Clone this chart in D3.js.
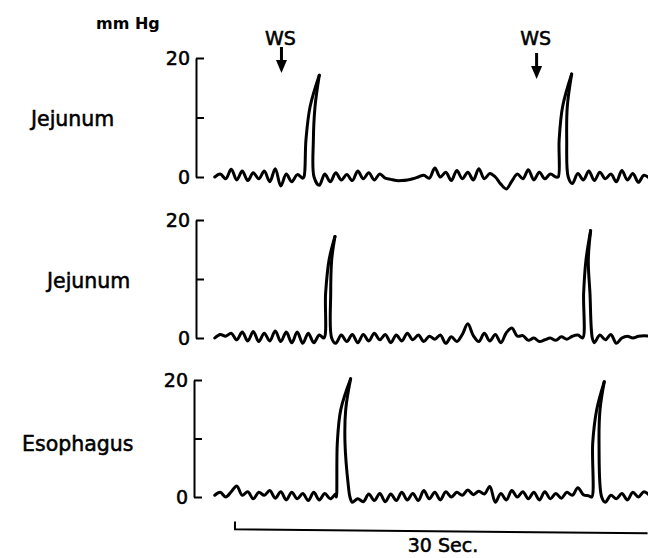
<!DOCTYPE html>
<html>
<head>
<meta charset="utf-8">
<script src="https://cdn.jsdelivr.net/npm/d3@7"></script>
<style>
  html, body { margin: 0; padding: 0; background: #fff; }
  svg { display: block; font-family: "DejaVu Sans", sans-serif; }
  .lbl { fill: #000; stroke: #000; stroke-width: 0.55px; }
</style>
</head>
<body>
<svg id="chart" width="648" height="558"></svg>
<script>
// ---------------- DATA ----------------
// time in seconds from the start of the traces; pressure in mm Hg
const panelNames = ["Jejunum", "Jejunum", "Esophagus"];
const tickValues = [0, 10, 20];
const tickLabels = ["0", "", "20"];
const yUnit = "mm Hg";
const markerLabel = "WS";
const markerTimes = [5.05, 23.6];          // WS arrows (s)
const scaleBarStart = 1.67;                // s
const scaleBarSeconds = 30;
const scaleBarLabel = "30 Sec.";

const baseStart = 0.2, baseStep = 0.4;     // baseline sampling
// baseline samples (null = during a contraction)
const jejunumA = [
  0.0, 0.5, -0.3, 1.3, -0.5, 1.0, -0.6, 0.7, -0.3, 1.0,
  -0.8, 1.4, -1.5, 0.5, -0.8, 0.4, -0.2, null, null, -1.4,
  0.5, -0.8, 0.7, -0.5, 0.4, -0.6, 1.0, -0.3, 0.7, -0.5,
  0.5, -0.2, -0.4, -0.6, -0.6, -0.5, -0.3, 0.0, 0.3, -0.2,
  1.5, 0.0, 0.8, -0.6, 1.1, -0.3, 0.8, -0.5, 1.4, -0.3,
  0.6, 0.0, -1.2, -2.0, -0.7, 0.5, -0.3, 1.2, -0.5, 0.8,
  -0.3, 0.5, 0.0, null, null, -1.1, 0.6, -0.5, 1.0, -0.6,
  0.8, -0.3, 0.5, -0.8, 1.1, -0.5, 0.6, -0.9, 0.3, -0.2
];
const jejunumB = [
  0.0, 0.6, 0.3, 0.8, -0.3, 1.0, -0.5, 1.1, -0.6, 0.8,
  -0.5, 1.2, -0.6, 1.0, -0.8, 1.0, -0.9, 0.8, -0.8, 0.5,
  null, null, -0.9, 0.5, -0.6, 0.6, -0.8, 0.6, -0.5, 0.8,
  -0.3, 0.6, -0.8, 0.5, -0.5, 0.8, -0.3, 0.5, -0.6, 0.3,
  -0.2, 0.5, -0.9, 0.2, -0.6, 0.6, 2.4, 0.4, -0.6, 0.8,
  -0.5, 0.6, -0.8, 0.9, 1.7, 0.3, 0.4, -0.4, 0.0, -0.6,
  -0.3, 0.0, -0.4, 0.2, -0.2, 0.3, 0.5, null, null, -0.8,
  0.5, -0.3, 0.6, -0.9, 0.0, 0.3, 0.0, 0.3, 0.4, 0.3
];
const esophagus = [
  0.3, 0.8, 0.0, 0.9, 1.9, 0.3, 0.9, -0.3, 0.8, 0.3,
  1.1, -0.2, 0.9, -0.5, 0.8, -0.3, 0.6, -0.6, 0.8, -0.5,
  0.6, -0.3, 0.5, null, null, -0.9, -0.3, -0.8, 0.5, -0.6,
  0.6, -0.8, 0.5, -0.6, 0.8, -0.5, 0.6, -0.6, 1.1, -0.3,
  0.8, -0.5, 0.9, 0.0, 0.8, 0.3, 1.2, 0.4, 1.0, 0.5,
  1.8, -0.9, 0.6, -0.5, 1.1, 0.0, 0.9, -0.3, 0.8, -0.5,
  0.9, -0.3, 0.6, -0.2, 0.8, 0.3, 1.6, 0.4, 0.2, null,
  null, -0.9, 0.3, -0.3, 0.6, -0.5, 0.8, 0.0, 0.9, 0.3
];
// contractions: rising limb and falling limb [t, mmHg]
const jejunumASpikes = [
  { rise: [[6.69, 0], [6.83, 6.2], [7.13, 11.8], [7.80, 17.1]],
    fall: [[7.80, 17.1], [7.49, 11.8], [7.37, 6.2], [7.42, 0]] },
  { rise: [[25.17, 0], [25.24, 6.2], [25.49, 11.8], [26.15, 17.3]],
    fall: [[26.15, 17.3], [25.83, 11.8], [25.79, 6.2], [25.90, 0]] }
];
const jejunumBSpikes = [
  { rise: [[8.14, 0], [8.26, 7.6], [8.51, 13.2], [8.94, 17.2]],
    fall: [[8.94, 17.2], [8.70, 13.2], [8.63, 7.6], [8.70, 0]] },
  { rise: [[26.95, 0], [27.02, 7.6], [27.19, 13.2], [27.53, 18.2]],
    fall: [[27.53, 18.2], [27.36, 13.2], [27.48, 7.6], [27.65, 0]] }
];
const esophagusSpikes = [
  { rise: [[9.05, 0], [9.11, 9.2], [9.36, 14.9], [10.08, 20.2]],
    fall: [[10.08, 20.2], [9.72, 14.9], [9.67, 9.2], [9.91, 2.0], [10.03, 0]] },
  { rise: [[27.61, 0], [27.68, 9.2], [27.97, 14.9], [28.52, 19.7]],
    fall: [[28.52, 19.7], [28.21, 14.9], [28.14, 9.2], [28.33, 0]] }
];
const baselines = [jejunumA, jejunumB, esophagus];
const spikes = [jejunumASpikes, jejunumBSpikes, esophagusSpikes];

// ---------------- LAYOUT ----------------
const svg = d3.select("#chart");
const x = d3.scaleLinear().domain([0, 31.7]).range([212, 648]);
const panels = [
  { y0: 177, y20: 58, axisX: 196, labelX: 31, labelY: 126 },
  { y0: 338, y20: 220, axisX: 196, labelX: 47, labelY: 288 },
  { y0: 497, y20: 380, axisX: 194, labelX: 22, labelY: 451 }
];

svg.append("defs").append("clipPath").attr("id", "clip")
  .append("rect").attr("x", 0).attr("y", 0).attr("width", 648).attr("height", 558);

panels.forEach((p, k) => {
  const y = d3.scaleLinear().domain([0, 20]).range([p.y0, p.y20]);

  const axis = d3.axisLeft(y)
    .tickValues(tickValues)
    .tickFormat((d, i) => tickLabels[i])
    .tickSizeInner(-8).tickSizeOuter(0).tickPadding(6);
  const g = svg.append("g").attr("transform", `translate(${p.axisX},0)`).call(axis);
  g.select(".domain").attr("stroke", "#000").attr("stroke-width", 2);
  g.selectAll(".tick line").attr("stroke", "#000").attr("stroke-width", 2);
  g.selectAll(".tick text").attr("class", "lbl").attr("font-size", 19)
    .attr("font-family", "DejaVu Sans, sans-serif");

  svg.append("text").attr("class", "lbl").attr("x", p.labelX).attr("y", p.labelY)
    .attr("font-size", 20.5).text(panelNames[k]);

  // build trace pieces (break at each peak for a sharp cusp)
  const base = baselines[k];
  const sp = spikes[k];
  const pieces = [];
  let cur = [];
  let si = 0;
  base.forEach((v, i) => {
    const t = baseStart + i * baseStep;
    if (v !== null) {
      cur.push([t, v]);
    } else if (i > 0 && base[i - 1] !== null) {
      cur.push(...sp[si].rise);
      pieces.push(cur);
      cur = sp[si].fall.slice();
      si++;
    }
  });
  pieces.push(cur);

  const line = d3.line()
    .x(d => x(d[0])).y(d => y(d[1]))
    .curve(d3.curveCatmullRom.alpha(0.5));
  svg.append("g").attr("clip-path", "url(#clip)")
    .selectAll("path").data(pieces).join("path")
    .attr("d", line)
    .attr("fill", "none").attr("stroke", "#000")
    .attr("stroke-width", 3).attr("stroke-linejoin", "round").attr("stroke-linecap", "round");
});

// units label
svg.append("text").attr("x", 96).attr("y", 29)
  .attr("font-size", 16).attr("font-weight", "bold").attr("fill", "#000").text(yUnit);

// WS markers
markerTimes.forEach((t, i) => {
  const cx = x(t);
  const top = i === 0 ? 47 : 53;
  svg.append("text").attr("class", "lbl").attr("x", cx - 1).attr("y", 45)
    .attr("text-anchor", "middle").attr("font-size", 19).text(markerLabel);
  svg.append("line").attr("x1", cx).attr("x2", cx).attr("y1", top).attr("y2", top + 16)
    .attr("stroke", "#000").attr("stroke-width", 3);
  svg.append("path")
    .attr("d", `M${cx - 5.5},${top + 13}L${cx + 5.5},${top + 13}L${cx},${top + 26}Z`)
    .attr("fill", "#000");
});

// time scale bar
const sx0 = x(scaleBarStart), sx1 = x(scaleBarStart + scaleBarSeconds);
svg.append("path")
  .attr("d", `M${sx0},521.5L${sx0},529.3L${sx1},533.3`)
  .attr("fill", "none").attr("stroke", "#000").attr("stroke-width", 2);
svg.append("text").attr("class", "lbl").attr("x", 443).attr("y", 552)
  .attr("text-anchor", "middle").attr("font-size", 19).text(scaleBarLabel);
</script>
</body>
</html>
